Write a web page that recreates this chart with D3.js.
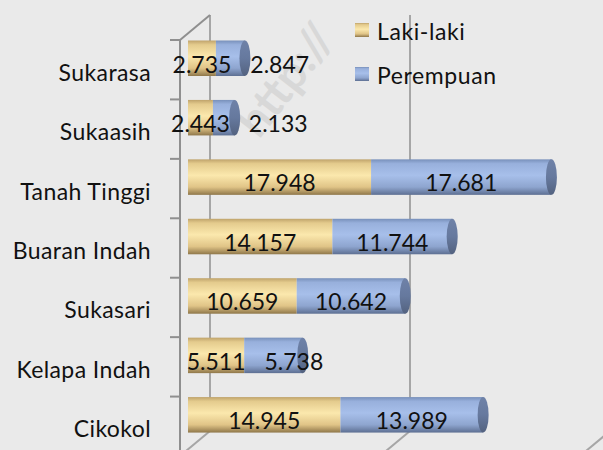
<!DOCTYPE html>
<html>
<head>
<meta charset="utf-8">
<script src="https://cdnjs.cloudflare.com/ajax/libs/d3/7.8.5/d3.min.js"></script>
<style>
    body { margin: 0; background: #eaeaea; }
    svg { display: block; }
    text { font-family: Lato, "Open Sans", sans-serif; fill: #111; }
</style>
</head>
<body>
<div id="chart"><svg></svg></div>
<script>
// data
var categories = ["Sukarasa", "Sukaasih", "Tanah Tinggi", "Buaran Indah", "Sukasari", "Kelapa Indah", "Cikokol"];
var lakiLaki = [2735, 2443, 17948, 14157, 10659, 5511, 14945];
var perempuan = [2847, 2133, 17681, 11744, 10642, 5738, 13989];
var seriesNames = ["Laki-laki", "Perempuan"];
var gridValues = [0, 20000, 40000];

var width = 603, height = 450;
var svg = d3.select("#chart").select("svg")
    .attr("width", width)
    .attr("height", height);

var fmt = d3.formatLocale({decimal: ",", thousands: ".", grouping: [3], currency: ["Rp", ""]}).format(",");

// 3d depth offset between front edge and back wall
var depth = {dx: 30, dy: -25};
var front = {left: 180, top: 40, bottom: 456};

var xScale = d3.scaleLinear().domain([0, 40000]).range([188, 596]);
var backX = d3.scaleLinear().domain([0, 40000]).range([front.left + depth.dx, front.left + depth.dx + 400]);
var yScale = d3.scaleBand().domain(categories).range([front.top, front.bottom]);
var barHeight = 35.5;

// gradients for the cylinders
var defs = svg.append("defs");
function addGradient(id, stops) {
    var g = defs.append("linearGradient").attr("id", id)
        .attr("x1", 0).attr("y1", 0).attr("x2", 0).attr("y2", 1);
    g.selectAll("stop").data(stops).enter().append("stop")
        .attr("offset", function (d) { return d[0]; })
        .attr("stop-color", function (d) { return d[1]; });
}
addGradient("gradLaki", [[0, "#bfa36b"], [0.12, "#e4cb8d"], [0.45, "#fbe8ad"], [0.78, "#e0c487"], [1, "#8f774a"]]);
addGradient("gradPerempuan", [[0, "#7890ba"], [0.12, "#98b0dc"], [0.45, "#a7bfea"], [0.78, "#8ea5cf"], [1, "#5d6f92"]]);
addGradient("gradCap", [[0, "#6f82a8"], [0.5, "#66799e"], [1, "#53627f"]]);
var fills = ["url(#gradLaki)", "url(#gradPerempuan)"];

// faint watermark behind the plot
svg.append("text")
    .attr("transform", "translate(259,140) rotate(-52)")
    .style("font-size", "46px")
    .style("font-weight", "bold")
    .style("fill", "#d8d8d8")
    .text("http://");

// back wall gridlines + floor lines
var grid = svg.append("g").attr("class", "grid");
grid.selectAll("line.back")
    .data(gridValues)
    .enter().append("line")
    .attr("x1", function (d) { return backX(d); })
    .attr("x2", function (d) { return backX(d); })
    .attr("y1", front.top + depth.dy)
    .attr("y2", front.bottom + depth.dy)
    .attr("stroke", "#a6a6a6")
    .attr("stroke-width", 2);
grid.selectAll("line.floor")
    .data(gridValues)
    .enter().append("line")
    .attr("x1", function (d) { return backX(d); })
    .attr("x2", function (d) { return backX(d) - depth.dx; })
    .attr("y1", front.bottom + depth.dy)
    .attr("y2", front.bottom)
    .attr("stroke", "#a6a6a6")
    .attr("stroke-width", 2);

// left wall: axis line, top edge and ticks
var axisG = svg.append("g").attr("class", "yAxisG");
axisG.append("line")
    .attr("x1", front.left).attr("x2", front.left)
    .attr("y1", front.top).attr("y2", front.bottom)
    .attr("stroke", "#8f8f8f").attr("stroke-width", 2);
axisG.append("line")
    .attr("x1", front.left).attr("x2", front.left + depth.dx)
    .attr("y1", front.top).attr("y2", front.top + depth.dy)
    .attr("stroke", "#8f8f8f").attr("stroke-width", 2);
var tickYs = categories.map(function (c) { return yScale(c); }).concat([front.bottom]);
axisG.selectAll("line.tick")
    .data(tickYs)
    .enter().append("line")
    .attr("x1", front.left - 10).attr("x2", front.left)
    .attr("y1", function (d) { return d; })
    .attr("y2", function (d) { return d; })
    .attr("stroke", "#8f8f8f").attr("stroke-width", 2);
axisG.selectAll("text")
    .data(categories)
    .enter().append("text")
    .attr("x", 151)
    .attr("y", function (d) { return yScale(d) + yScale.bandwidth() / 2 + 2; })
    .attr("text-anchor", "end")
    .attr("dominant-baseline", "central")
    .style("font-size", "23px")
    .style("letter-spacing", "0.4px")
    .text(function (d) { return d; });

// bars
var rows = categories.map(function (c, i) {
    return {cat: c, values: [lakiLaki[i], perempuan[i]]};
});
var barG = svg.append("g").attr("class", "bars");
rows.forEach(function (row) {
    var y0 = yScale(row.cat) + 0.5;
    var start = 0;
    var segs = row.values.map(function (v, k) {
        var s = {x0: start, x1: start + v, v: v, k: k};
        start += v;
        return s;
    });
    barG.selectAll(null)
        .data(segs)
        .enter().append("rect")
        .attr("x", function (d) { return xScale(d.x0); })
        .attr("width", function (d) { return xScale(d.x1) - xScale(d.x0); })
        .attr("y", y0)
        .attr("height", barHeight)
        .attr("fill", function (d) { return fills[d.k]; });
    barG.append("ellipse")
        .attr("cx", xScale(start))
        .attr("cy", y0 + barHeight / 2)
        .attr("rx", 5.5)
        .attr("ry", barHeight / 2)
        .attr("fill", "url(#gradCap)");

    // data labels, pushed right when they would collide
    var prevRight = -Infinity;
    segs.forEach(function (d) {
        var t = barG.append("text")
            .attr("y", y0 + 32)
            .style("font-size", "23px")
            .text(fmt(d.v));
        var w = t.node().getComputedTextLength();
        var left = (xScale(d.x0) + xScale(d.x1)) / 2 - w / 2;
        if (left < prevRight + 19) left = prevRight + 19;
        t.attr("x", left);
        prevRight = left + w;
    });
});

// legend
var legend = svg.append("g").attr("class", "legend");
legend.selectAll("rect")
    .data(seriesNames)
    .enter().append("rect")
    .attr("x", 355)
    .attr("y", function (d, i) { return 23 + i * 44; })
    .attr("width", 14)
    .attr("height", 14)
    .attr("fill", function (d, i) { return fills[i]; });
legend.selectAll("text")
    .data(seriesNames)
    .enter().append("text")
    .attr("x", 377)
    .attr("y", function (d, i) { return 31 + i * 44; })
    .attr("dominant-baseline", "central")
    .style("font-size", "23px")
    .style("letter-spacing", "0.6px")
    .text(function (d) { return d; });
</script>
</body>
</html>
